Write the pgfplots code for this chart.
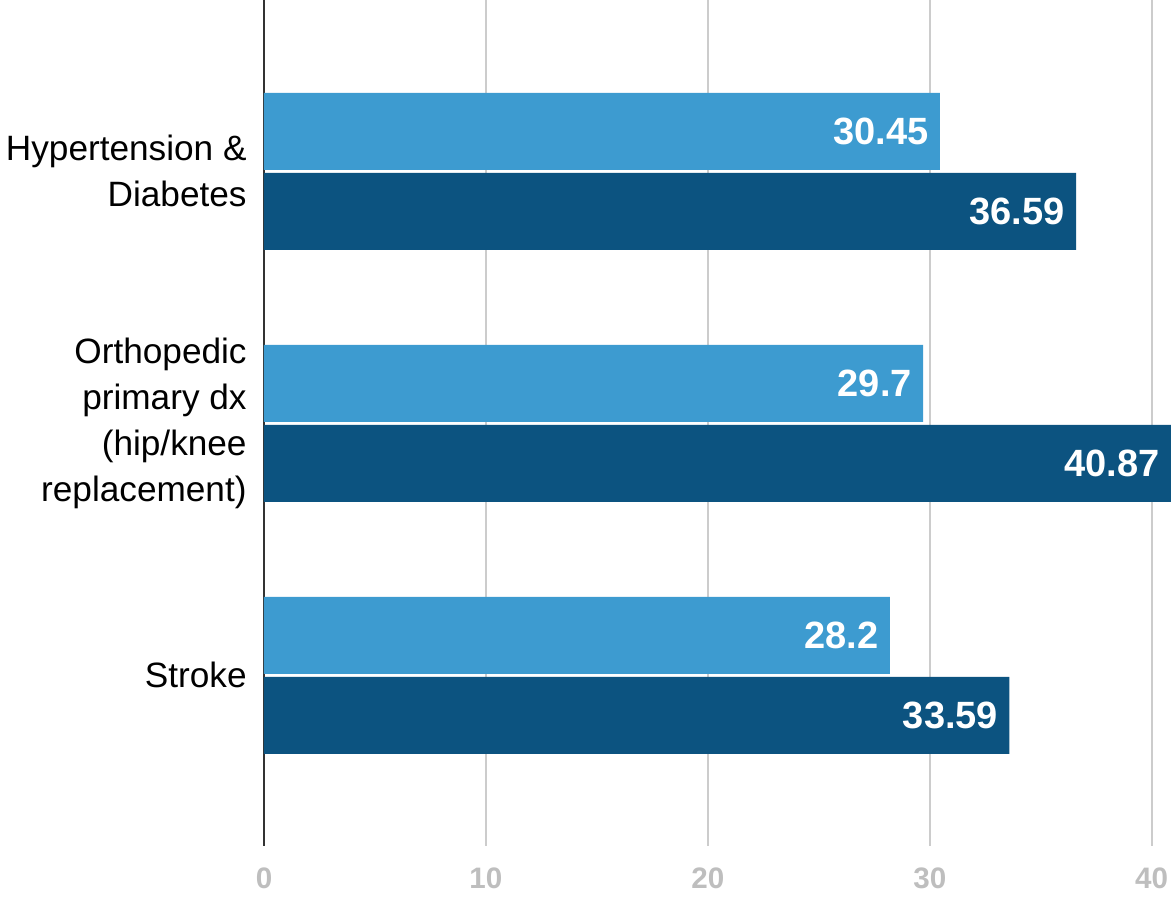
\documentclass[border=0pt]{standalone}
\usepackage{pgfplots}
\pgfplotsset{compat=1.18}
\usepackage{fontspec}
\setmainfont{Liberation Sans}
\definecolor{lightbar}{RGB}{61,155,208}
\definecolor{darkbar}{RGB}{12,83,128}
\definecolor{gridgray}{RGB}{204,204,204}
\definecolor{ticklab}{RGB}{190,190,190}
\definecolor{zeroline}{RGB}{51,51,51}
\begin{document}
\begin{tikzpicture}
\begin{axis}[
  scale only axis,
  width=453.5pt, height=423pt,
  xmin=0, xmax=40.87,
  ymin=-0.68, ymax=2.677,
  y dir=reverse,
  xbar,
  bar width=38.5pt,
  axis line style={draw=none},
  major tick length=0pt,
  xtick={10,20,30,40},
  xmajorgrids=true,
  grid style={draw=gridgray, line width=1pt},
  extra x ticks={0},
  extra x tick style={grid style={draw=zeroline, line width=1pt}},
  xticklabel style={font=\fontsize{14.8}{17}\selectfont\bfseries, text=ticklab, yshift=-7.5pt},
  /pgf/number format/assume math mode=true,
  ytick={0,1,2},
  yticklabels={{Hypertension \&\\Diabetes},{Orthopedic\\primary dx\\(hip/knee\\replacement)},{Stroke}},
  yticklabel style={align=right, font=\fontsize{17.6}{23}\selectfont, text=black, inner sep=0pt, xshift=-8.5pt},
  nodes near coords={\pgfmathprintnumber[fixed,precision=2,assume math mode=true]{\pgfplotspointmeta}},
  every node near coord/.append style={anchor=east, inner sep=0pt, xshift=-5.5pt, text=white, font=\fontsize{19}{22}\selectfont\bfseries},
  clip=false,
]
\addplot[fill=lightbar, draw=none, bar shift=0pt] coordinates {(30.45,-0.1587) (29.7,0.8413) (28.2,1.8413)};
\addplot[fill=darkbar, draw=none, bar shift=0pt] coordinates {(36.59,0.1587) (40.87,1.1587) (33.59,2.1587)};
\end{axis}
\pgfresetboundingbox
\useasboundingbox ([xshift=-132pt,yshift=-25pt]current axis.south west) rectangle (current axis.north east);
\end{tikzpicture}
\end{document}
